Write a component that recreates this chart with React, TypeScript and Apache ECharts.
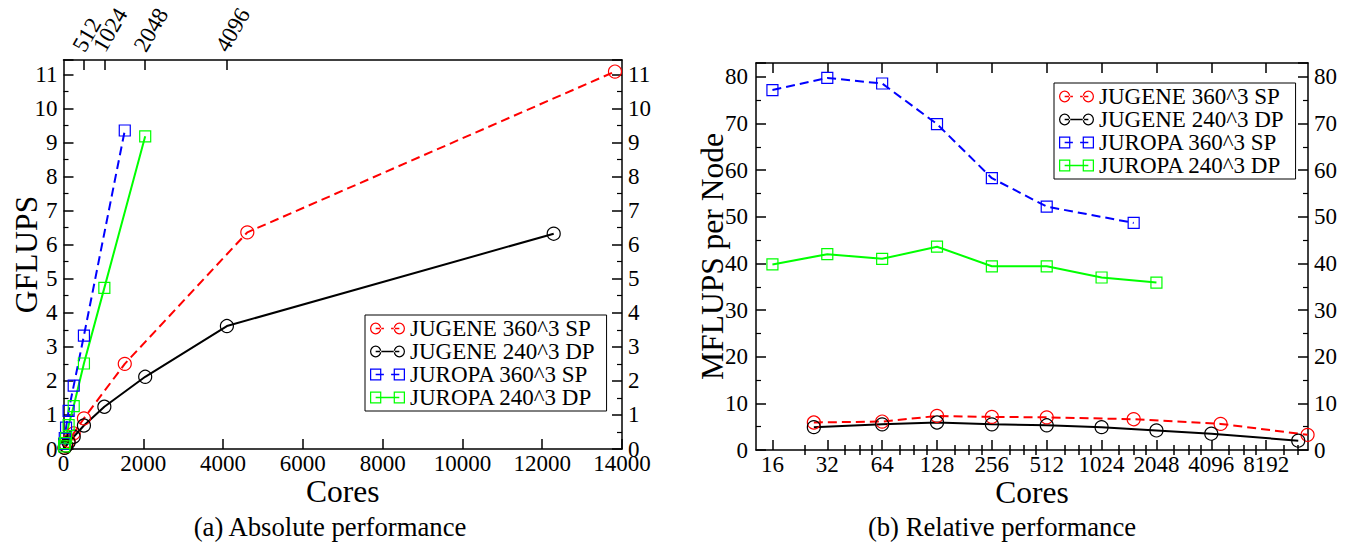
import React, { useEffect, useRef } from 'react';
import * as echarts from 'echarts';

const FONT = 'Liberation Serif';

const seriesNames = ['JUGENE 360^3 SP', 'JUGENE 240^3 DP', 'JUROPA 360^3 SP', 'JUROPA 240^3 DP'];
const seriesColors = ['#ff0000', '#000000', '#0000ff', '#00ff00'];

// cores per series
const jugeneSPCores = [27, 64, 128, 256, 512, 1536, 4608, 13824];
const jugeneDPCores = [27, 64, 128, 256, 512, 1024, 2048, 4096, 12288];
const juropaSPCores = [16, 32, 64, 128, 256, 512, 1536];
const juropaDPCores = [16, 32, 64, 128, 256, 512, 1024, 2048];

// (a) absolute performance, GFLUPS
const jugeneSPGflups = [0.04, 0.1, 0.24, 0.46, 0.9, 2.5, 6.36, 11.08];
const jugeneDPGflups = [0.033, 0.09, 0.19, 0.36, 0.69, 1.24, 2.12, 3.61, 6.32];
const juropaSPGflups = [0.15, 0.32, 0.63, 1.12, 1.86, 3.33, 9.35];
const juropaDPGflups = [0.08, 0.17, 0.33, 0.7, 1.26, 2.51, 4.73, 9.18];

// (b) relative performance, MFLUPS per node
const jugeneSPMflups = [5.9, 6.1, 7.3, 7.1, 7.0, 6.6, 5.6, 3.25];
const jugeneDPMflups = [4.9, 5.5, 5.9, 5.5, 5.3, 4.9, 4.2, 3.5, 2.0];
const juropaSPMflups = [77.2, 79.8, 78.6, 69.9, 58.3, 52.2, 48.7];
const juropaDPMflups = [39.8, 42.0, 41.0, 43.6, 39.4, 39.4, 37.0, 35.9];

// tick labels
const topCoreTicks = [512, 1024, 2048, 4096];
const logCoreTicks = [16, 32, 64, 128, 256, 512, 1024, 2048, 4096, 8192];
const logMinorTicks = [24, 40, 48, 56, 80, 96, 112, 160, 192, 224, 320, 384, 448, 640, 768, 896,
  1280, 1536, 1792, 2560, 3072, 3584, 5120, 6144, 7168, 10240, 12288];

const captions = ['(a) Absolute performance', '(b) Relative performance'];

const labelStyle = { fontFamily: FONT, fontSize: 23, color: '#000' };
const nameStyle = { fontFamily: FONT, fontSize: 31.5, color: '#000' };
const axisLine = { show: true, onZero: false, lineStyle: { color: '#000', width: 1.5 } };
const plain = (v: number) => String(v);

// legend icons: marker, line, marker (xmgrace style)
const ringCircle = (cx: number) =>
  `M${cx - 5.5},6 A5.5,5.5 0 1,0 ${cx + 5.5},6 A5.5,5.5 0 1,0 ${cx - 5.5},6 Z ` +
  `M${cx - 4.3},6 A4.3,4.3 0 1,1 ${cx + 4.3},6 A4.3,4.3 0 1,1 ${cx - 4.3},6 Z`;
const ringSquare = (cx: number) =>
  `M${cx - 5.5},0.5 L${cx + 5.5},0.5 L${cx + 5.5},11.5 L${cx - 5.5},11.5 Z ` +
  `M${cx - 4.3},1.7 L${cx - 4.3},10.3 L${cx + 4.3},10.3 L${cx + 4.3},1.7 Z`;
const bar = (x0: number, x1: number) => `M${x0},5.2 L${x1},5.2 L${x1},6.8 L${x0},6.8 Z`;
function legendIcon(kind: 'circle' | 'rect', dashed: boolean) {
  const ring = kind === 'circle' ? ringCircle : ringSquare;
  const line = dashed ? bar(6, 14) + ' ' + bar(21, 29) : bar(6, 29);
  return 'path://' + ring(6) + ' ' + ring(29) + ' ' + line;
}
const legendIcons = [legendIcon('circle', true), legendIcon('circle', false), legendIcon('rect', true), legendIcon('rect', false)];

function mk(name: string, xs: number[], ys: number[], xi: number, yi: number, color: string, dashed: boolean, symbol: string) {
  return {
    type: 'line',
    name,
    xAxisIndex: xi,
    yAxisIndex: yi,
    data: xs.map((x, i) => [x, ys[i]]),
    symbol,
    symbolSize: symbol === 'circle' ? 13 : 11,
    color,
    clip: false,
    lineStyle: { color, width: 2, type: dashed ? [9, 5] : 'solid' },
    itemStyle: { color: 'rgba(0,0,0,0)', borderColor: color, borderWidth: 1.2 },
  };
}

function legendAt(left: number, top: number) {
  return {
    data: seriesNames.map((name, i) => ({
      name,
      icon: legendIcons[i],
      itemStyle: { color: seriesColors[i], borderColor: seriesColors[i], borderWidth: 0 },
    })),
    left,
    top,
    orient: 'vertical',
    padding: [2, 12, 2, 5],
    itemGap: 0,
    itemWidth: 35,
    itemHeight: 12,
    symbolKeepAspect: false,
    borderColor: '#000',
    borderWidth: 1,
    borderRadius: 0,
    backgroundColor: '#fff',
    selectedMode: false,
    textStyle: { fontFamily: FONT, fontSize: 23, color: '#000', lineHeight: 23 },
  };
}

export default function App() {
  const ref = useRef<HTMLDivElement>(null);
  useEffect(() => {
    if (!ref.current) return;
    const chart = echarts.init(ref.current, undefined, { renderer: 'svg' });
    const tick = (len: number, extra: any = {}) => ({ inside: true, length: len, lineStyle: { color: '#000', width: 1.5 }, ...extra });
    const captionGraphics = [
      { id: 'capA', type: 'text', x: 330, y: 527, style: { text: captions[0], font: `26.7px "${FONT}"`, fill: '#000', align: 'center', verticalAlign: 'middle' } },
      { id: 'capB', type: 'text', x: 1002, y: 527, style: { text: captions[1], font: `26.7px "${FONT}"`, fill: '#000', align: 'center', verticalAlign: 'middle' } },
    ];
    const option: any = {
      animation: false,
      backgroundColor: '#fff',
      textStyle: { fontFamily: FONT },
      grid: [
        { left: 63.5, top: 60, width: 558.5, height: 389, outerBoundsMode: 'none' },
        { left: 756, top: 63, width: 552, height: 387, outerBoundsMode: 'none' },
      ],
      legend: [legendAt(365, 315), legendAt(1054, 83)],
      xAxis: [
        {
          gridIndex: 0, type: 'value', position: 'bottom', min: 0, max: 14000, interval: 2000,
          axisLine, axisTick: tick(10),
          axisLabel: { ...labelStyle, margin: 3, formatter: plain }, splitLine: { show: false },
          name: 'Cores', nameLocation: 'middle', nameGap: 26, nameMoveOverlap: false, nameTextStyle: nameStyle,
        },
        {
          gridIndex: 0, type: 'value', position: 'top', min: 0, max: 14000,
          axisLine, axisTick: tick(10, { customValues: topCoreTicks }),
          axisLabel: { show: false }, splitLine: { show: false },
        },
        {
          gridIndex: 1, type: 'log', logBase: 2, position: 'bottom', min: 13, max: 13900,
          axisLine, axisTick: tick(10, { customValues: logCoreTicks }),
          axisLabel: { ...labelStyle, customValues: logCoreTicks, margin: 3, formatter: plain, showMinLabel: true, showMaxLabel: true },
          splitLine: { show: false }, minorTick: { show: false },
          name: 'Cores', nameLocation: 'middle', nameGap: 26, nameMoveOverlap: false, nameTextStyle: nameStyle,
        },
        {
          gridIndex: 1, type: 'log', logBase: 2, position: 'top', min: 13, max: 13900,
          axisLine, axisTick: tick(10, { customValues: logCoreTicks }),
          axisLabel: { show: false }, splitLine: { show: false },
        },
        {
          gridIndex: 1, type: 'log', logBase: 2, position: 'bottom', min: 13, max: 13900,
          axisLine: { show: false }, axisTick: tick(5, { customValues: logMinorTicks }),
          axisLabel: { show: false }, splitLine: { show: false },
        },
        {
          gridIndex: 1, type: 'log', logBase: 2, position: 'top', min: 13, max: 13900,
          axisLine: { show: false }, axisTick: tick(5, { customValues: logMinorTicks }),
          axisLabel: { show: false }, splitLine: { show: false },
        },
      ],
      yAxis: [
        {
          gridIndex: 0, type: 'value', position: 'left', min: 0, max: 11.42, interval: 1,
          axisLine, axisTick: tick(10),
          minorTick: { show: true, splitNumber: 2, length: 5, lineStyle: { color: '#000', width: 1.2 } },
          axisLabel: { ...labelStyle, margin: 6, showMaxLabel: false }, splitLine: { show: false },
          name: 'GFLUPS', nameLocation: 'middle', nameGap: 21, nameMoveOverlap: false, nameTextStyle: nameStyle,
        },
        {
          gridIndex: 0, type: 'value', position: 'right', min: 0, max: 11.42, interval: 1,
          axisLine, axisTick: tick(10),
          minorTick: { show: true, splitNumber: 2, length: 5, lineStyle: { color: '#000', width: 1.2 } },
          axisLabel: { ...labelStyle, margin: 6, showMaxLabel: false }, splitLine: { show: false },
        },
        {
          gridIndex: 1, type: 'value', position: 'left', min: 0, max: 83, interval: 10,
          axisLine, axisTick: tick(10),
          minorTick: { show: true, splitNumber: 2, length: 5, lineStyle: { color: '#000', width: 1.2 } },
          axisLabel: { ...labelStyle, margin: 8, showMaxLabel: false }, splitLine: { show: false },
          name: 'MFLUPS per Node', nameLocation: 'middle', nameGap: 28, nameMoveOverlap: false, nameTextStyle: nameStyle,
        },
        {
          gridIndex: 1, type: 'value', position: 'right', min: 0, max: 83, interval: 10,
          axisLine, axisTick: tick(10),
          minorTick: { show: true, splitNumber: 2, length: 5, lineStyle: { color: '#000', width: 1.2 } },
          axisLabel: { ...labelStyle, margin: 6, showMaxLabel: false }, splitLine: { show: false },
        },
      ],
      series: [
        mk(seriesNames[0], jugeneSPCores, jugeneSPGflups, 0, 0, seriesColors[0], true, 'circle'),
        mk(seriesNames[1], jugeneDPCores, jugeneDPGflups, 0, 0, seriesColors[1], false, 'circle'),
        mk(seriesNames[2], juropaSPCores, juropaSPGflups, 0, 0, seriesColors[2], true, 'rect'),
        mk(seriesNames[3], juropaDPCores, juropaDPGflups, 0, 0, seriesColors[3], false, 'rect'),
        mk(seriesNames[0], jugeneSPCores, jugeneSPMflups, 2, 2, seriesColors[0], true, 'circle'),
        mk(seriesNames[1], jugeneDPCores, jugeneDPMflups, 2, 2, seriesColors[1], false, 'circle'),
        mk(seriesNames[2], juropaSPCores, juropaSPMflups, 2, 2, seriesColors[2], true, 'rect'),
        mk(seriesNames[3], juropaDPCores, juropaDPMflups, 2, 2, seriesColors[3], false, 'rect'),
      ],
      graphic: captionGraphics,
    };
    chart.setOption(option);

    // rotated labels of the top axis (a), placed at the axis' own tick positions
    const topY = 60;
    const topLabels = topCoreTicks.map((v, i) => {
      const px = chart.convertToPixel({ xAxisIndex: 1 } as any, v) as number;
      return {
        id: 'top' + i,
        type: 'text',
        x: px + 4.3,
        y: topY - 4.5,
        rotation: Math.PI / 3,
        style: { text: String(v), font: `23px "${FONT}"`, fill: '#000', align: 'left', verticalAlign: 'bottom' },
      };
    });
    chart.setOption({ graphic: [...captionGraphics, ...topLabels] });
    return () => chart.dispose();
  }, []);
  return <div ref={ref} style={{ position: 'absolute', left: 0, top: 0, width: 1350, height: 544 }} />;
}
